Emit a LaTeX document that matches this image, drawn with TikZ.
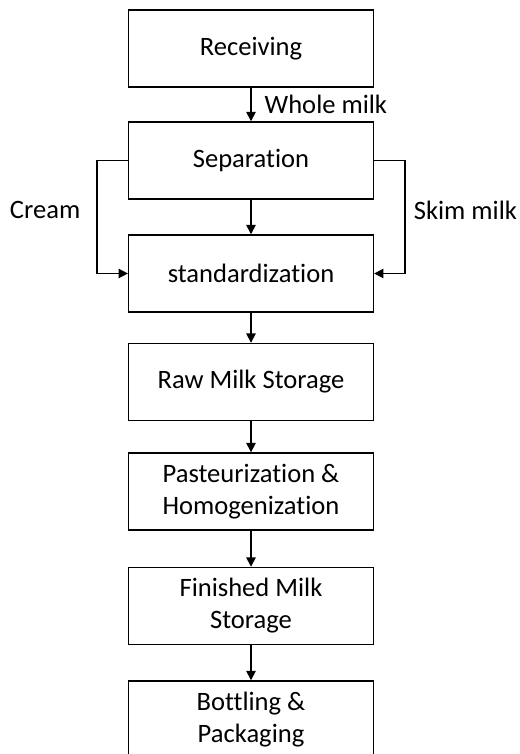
\documentclass[tikz,border=0pt]{standalone}
\usepackage{fontspec}
\setmainfont{Carlito}[Ligatures=NoCommon]
\usetikzlibrary{arrows.meta, positioning, calc}

\begin{document}
\begin{tikzpicture}[
    >=Stealth,
    % Styles for the process steps and the links between them
    proc_box/.style={rectangle, draw, line width=1pt, minimum width=6.48cm, minimum height=2.04cm, align=center, font=\fontsize{20}{24}\selectfont},
    flow/.style={line width=1.2pt, -{Triangle[length=7pt, width=7pt]}},
    lbl/.style={font=\fontsize{20}{24}\selectfont, inner sep=0pt}
]
    \useasboundingbox (-6.641,1.283) rectangle (7.091,-18.666);

    % --- Process Steps ---
    \node[proc_box] (rec) at (0,0) {Receiving};
    \node[proc_box] (sep) at ($(rec) + (0,-2.963)$) {Separation};
    \node[proc_box] (std) at ($(sep) + (0,-2.990)$) {standardization};
    \node[proc_box] (raw) at ($(std) + (0,-2.871)$) {Raw Milk Storage};
    \node[proc_box] (past) at ($(raw) + (0,-2.897)$) {Pasteurization \&\\Homogenization};
    \node[proc_box] (fin) at ($(past) + (0,-3.029)$) {Finished Milk\\Storage};
    \node[proc_box] (bott) at ($(fin) + (0,-3.003)$) {Bottling \&\\Packaging};

    % --- Main Line Flows ---
    \draw[flow] (rec) -- node[right=0.34cm, lbl] {Whole milk} (sep);
    \draw[flow] (sep) -- (std);
    \draw[flow] (std) -- (raw);
    \draw[flow] (raw) -- (past);
    \draw[flow] (past) -- (fin);
    \draw[flow] (fin) -- (bott);

    % --- Side Streams from Separation ---
    \coordinate (cream_c) at ($(sep.west) + (-0.82, 0)$);
    \coordinate (skim_c) at ($(sep.east) + (0.82, 0)$);
    \draw[flow] (sep.west) -- (cream_c) |- node[pos=0.22, left=0.42cm, lbl] {Cream} (std.west);
    \draw[flow] (sep.east) -- (skim_c) |- node[pos=0.22, right=0.21cm, lbl] {Skim milk} (std.east);

\end{tikzpicture}
\end{document}
